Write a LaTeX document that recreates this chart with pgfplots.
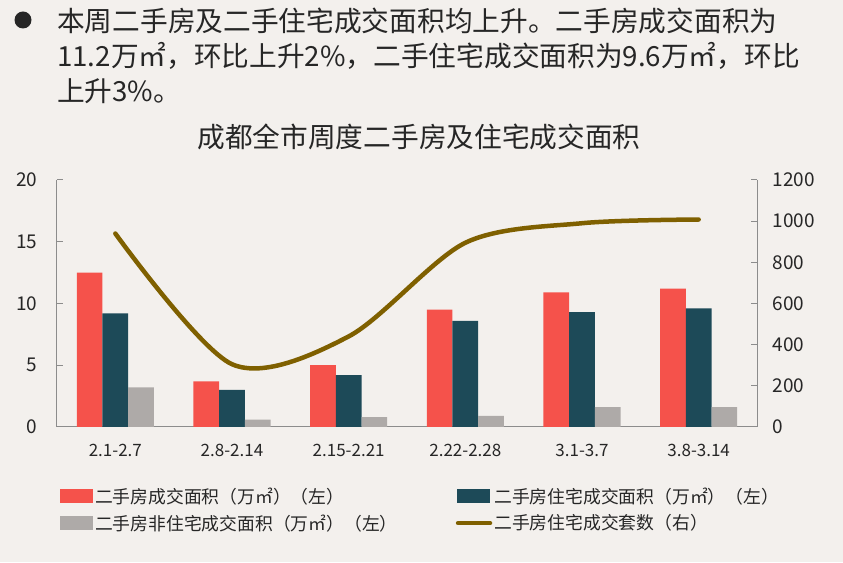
\documentclass[border=0pt]{standalone}
\usepackage{pgfplots}
\pgfplotsset{compat=1.18}
\usepackage{fontspec}
\setmainfont{Noto Sans CJK SC}
\definecolor{bg}{HTML}{F3F0ED}
\definecolor{cred}{HTML}{F5524B}
\definecolor{cteal}{HTML}{1D4A58}
\definecolor{cgray}{HTML}{AEAAA8}
\definecolor{cline}{HTML}{7F6000}
\definecolor{axc}{HTML}{8C8C8C}
\definecolor{txt}{HTML}{262626}
\begin{document}
\begin{tikzpicture}
\fill[bg] (0pt,0pt) rectangle (843pt,562pt);
\fill[txt] (23pt,542pt) circle (8.5pt);
\node[anchor=north west, align=left, text=txt, font=\fontsize{27.7}{35}\selectfont, inner sep=0pt] at (57pt,554pt)
 {本周二手房及二手住宅成交面积均上升。二手房成交面积为\\11.2万㎡，环比上升2\%，二手住宅成交面积为9.6万㎡，环比\\上升3\%。};
\node[text=txt, font=\fontsize{27.7}{28}\selectfont] at (419pt,425pt) {成都全市周度二手房及住宅成交面积};
\begin{axis}[
  at={(57pt,135pt)}, anchor=south west,
  scale only axis, width=700pt, height=247pt,
  xmin=-0.5, xmax=5.5, ymin=0, ymax=20,
  ytick={0,5,10,15,20},
  axis x line*=bottom, axis y line*=left,
  axis line style={axc, line width=1pt},
  tick align=inside,
  major tick length=6pt,
  tick style={axc, line width=1pt},
  ybar=0pt, bar width=25.7pt,
  xtick={0,...,5},
  xticklabels={2.1-2.7,2.8-2.14,2.15-2.21,2.22-2.28,3.1-3.7,3.8-3.14},
  x tick style={draw=none},
  extra x ticks={0.5,1.5,2.5,3.5,4.5},
  extra x tick labels={},
  extra x tick style={tick style={draw=axc, line width=1pt}},
  /pgf/number format/assume math mode=true,
  /pgf/number format/1000 sep={},
  yticklabel style={font=\fontsize{19}{19}\selectfont, text=txt, xshift=-16pt},
  xticklabel style={font=\fontsize{17}{17}\selectfont, text=txt, yshift=-8pt},
  legend columns=2,
  legend cell align=left,
  legend style={at={(0.0,-0.228)}, anchor=north west, draw=none, fill=none,
    font=\fontsize{17.8}{18}\selectfont, text=txt, row sep=6pt,
    nodes={inner sep=2pt},
    /tikz/every even column/.append style={column sep=56pt}},
]
\addplot[fill=cred, draw=none, legend image code/.code={\fill[cred] (0pt,-7pt) rectangle (33pt,7pt);}]
  coordinates {(0,12.5) (1,3.7) (2,5.0) (3,9.5) (4,10.9) (5,11.2)};
\addlegendentry{二手房成交面积（万㎡）（左）}
\addplot[fill=cteal, draw=none, legend image code/.code={\fill[cteal] (0pt,-7pt) rectangle (33pt,7pt);}]
  coordinates {(0,9.2) (1,3.0) (2,4.2) (3,8.6) (4,9.3) (5,9.6)};
\addlegendentry{二手房住宅成交面积（万㎡）（左）}
\addplot[fill=cgray, draw=none, legend image code/.code={\fill[cgray] (0pt,-7pt) rectangle (33pt,7pt);}]
  coordinates {(0,3.2) (1,0.6) (2,0.8) (3,0.9) (4,1.6) (5,1.6)};
\addlegendentry{二手房非住宅成交面积（万㎡）（左）}
\addlegendimage{legend image code/.code={\draw[cline, line width=4.5pt, line cap=round] (1pt,0pt) -- (33pt,0pt);}}
\addlegendentry{二手房住宅成交套数（右）}
\end{axis}
\begin{axis}[
  at={(57pt,135pt)}, anchor=south west,
  scale only axis, width=700pt, height=247pt,
  xmin=-0.5, xmax=5.5, ymin=0, ymax=1200,
  ytick={0,200,...,1200},
  axis x line=none, axis y line*=right,
  axis line style={axc, line width=1pt},
  tick align=inside,
  major tick length=6pt,
  tick style={axc, line width=1pt},
  /pgf/number format/assume math mode=true,
  /pgf/number format/1000 sep={},
  yticklabel style={font=\fontsize{19}{19}\selectfont, text=txt, xshift=12pt},
]
\addplot[cline, line width=4.5pt, smooth, line cap=round]
  coordinates {(0,940) (1,305) (2,440) (3,895) (4,990) (5,1008)};
\end{axis}
\end{tikzpicture}
\end{document}
